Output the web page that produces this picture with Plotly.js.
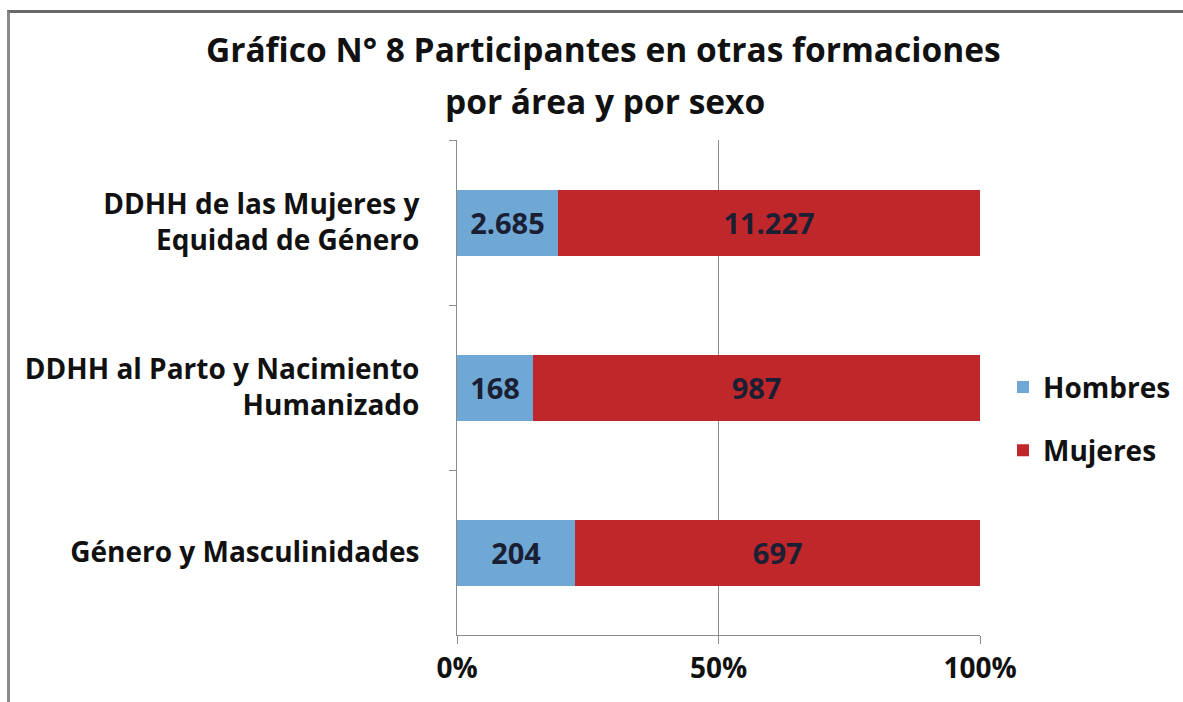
<!DOCTYPE html>
<html>
<head>
<meta charset="utf-8">
<script src="https://cdn.plot.ly/plotly-3.0.1.min.js"></script>
<style>
html,body{margin:0;padding:0;background:#fff;}
#frame{position:absolute;left:7px;top:10px;width:1176px;height:692px;border-left:3px solid #8a8a8a;border-top:3px solid #6a6a6a;box-sizing:border-box;}
#chart{position:absolute;left:0;top:0;width:1183px;height:702px;}
</style>
</head>
<body>
<div id="frame"></div>
<div id="chart"></div>
<script>
var categories = ["DDHH de las Mujeres y<br>Equidad de Género", "DDHH al Parto y Nacimiento<br>Humanizado", "Género y Masculinidades"];
var hombres = [2685, 168, 204];
var mujeres = [11227, 987, 697];
var xTickVals = [0, 50, 100];
var xTickText = ["0%", "50%", "100%"];
var titleLine1 = "Gráfico N° 8 Participantes en otras formaciones";
var titleLine2 = "por área y por sexo";

function fmt(n){ return String(n).replace(/\B(?=(\d{3})+(?!\d))/g, "."); }

var FONT = "Open Sans, Noto Sans, sans-serif";
var labelFont = {family: FONT, size: 29, color: "#1a1f33", weight: 700};
var titleFont = {family: FONT, size: 33.5, color: "#111", weight: 700};

var traces = [
  {type: "bar", orientation: "h", name: "Hombres", y: categories, x: hombres,
   text: hombres.map(fmt), textposition: "inside", insidetextanchor: "middle",
   textfont: labelFont, marker: {color: "#6fa7d5"}, legendgroup: "h", hoverinfo: "x+y+name"},
  {type: "bar", orientation: "h", name: "Mujeres", y: categories, x: mujeres,
   text: mujeres.map(fmt), textposition: "inside", insidetextanchor: "middle",
   textfont: labelFont, marker: {color: "#c0272a"}, legendgroup: "m", hoverinfo: "x+y+name"}
];

var layout = {
  width: 1183, height: 702,
  paper_bgcolor: "rgba(0,0,0,0)", plot_bgcolor: "rgba(0,0,0,0)",
  margin: {l: 457, r: 203, t: 140, b: 67, autoexpand: false},
  barmode: "stack", barnorm: "percent", bargap: 0.6,
  title: {text: titleLine1, font: titleFont,
          x: 0.51, xanchor: "center", yref: "container", y: 1 - 50/702, yanchor: "middle"},
  annotations: [
    {text: titleLine2, font: titleFont, showarrow: false,
     xref: "paper", yref: "paper", x: (605 - 457) / 523, y: 1 + (142 - 103) / 495,
     xanchor: "center", yanchor: "middle"}
  ],
  xaxis: {range: [0, 100], tickvals: xTickVals, ticktext: xTickText,
          showgrid: true, gridcolor: "#8c8c8c", gridwidth: 1, zeroline: false,
          showline: true, linecolor: "#8c8c8c", linewidth: 1,
          ticks: "outside", ticklen: 8, tickcolor: "#8c8c8c",
          tickfont: {family: FONT, size: 28, color: "#111", weight: 700}, fixedrange: true},
  yaxis: {autorange: "reversed", type: "category", tickson: "boundaries",
          showline: true, linecolor: "#8c8c8c", linewidth: 1,
          ticks: "outside", ticklen: 7, tickcolor: "#8c8c8c", showgrid: false,
          ticklabelstandoff: 31,
          tickfont: {family: FONT, size: 28, color: "#111", weight: 700}, fixedrange: true},
  legend: {x: 1.044, xanchor: "left", y: 0.437, yanchor: "middle",
           font: {family: FONT, size: 28, color: "#111", weight: 700},
           traceorder: "grouped", tracegroupgap: 24, itemwidth: 30},
  showlegend: true
};

Plotly.newPlot("chart", traces, layout, {displayModeBar: false, responsive: false});
</script>
</body>
</html>
